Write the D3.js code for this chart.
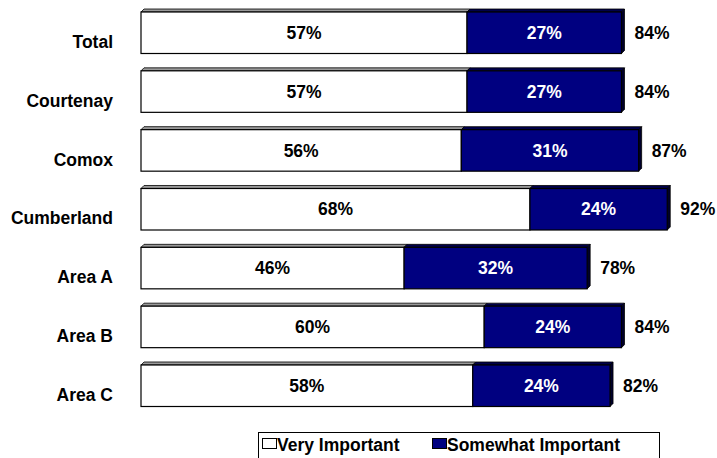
<!DOCTYPE html>
<html>
<head>
<meta charset="utf-8">
<script src="https://cdn.jsdelivr.net/npm/d3@7"></script>
<style>
  body { margin: 0; background: #fff; }
  text { font-family: "Liberation Sans", Arial, sans-serif; font-weight: bold; font-size: 17.5px; }
</style>
</head>
<body>
<svg id="chart" width="717" height="458"></svg>
<script>
// chart data
const categories = ['Total', 'Courtenay', 'Comox', 'Cumberland', 'Area A', 'Area B', 'Area C'];
const veryImportant = [57, 57, 56, 68, 46, 60, 58];
const somewhatImportant = [27, 27, 31, 24, 32, 24, 24];
const totals = [84, 84, 87, 92, 78, 84, 82];
const seriesNames = ['Very Important', 'Somewhat Important'];

const svg = d3.select('#chart');
const depth = 3;

const x = d3.scaleLinear().domain([0, 100]).range([141, 713]);
const y = d3.scaleBand().domain(categories).range([12, 406.5]).paddingInner(0.2946).paddingOuter(0);

const rows = categories.map((c, i) => ({
    name: c, v: veryImportant[i], s: somewhatImportant[i], t: totals[i]
}));

const bars = svg.append('g');

rows.forEach(function(d) {
    const y0 = y(d.name), h = y.bandwidth();
    const segs = [
        {x0: 0, x1: d.v, fill: '#ffffff', top: '#9a9a9a', txt: '#000', label: d.v},
        {x0: d.v, x1: d.v + d.s, fill: '#000080', top: '#00004a', txt: '#fff', label: d.s}
    ];
    const g = bars.append('g');
    // top faces
    g.selectAll('path.top')
        .data(segs)
        .join('path')
        .attr('class', 'top')
        .attr('d', s => `M${x(s.x0)},${y0} L${x(s.x0) + depth},${y0 - depth} L${x(s.x1) + depth},${y0 - depth} L${x(s.x1)},${y0} Z`)
        .attr('fill', s => s.top)
        .attr('stroke', '#000')
        .attr('stroke-width', 0.8);
    // right side face
    const xe = x(d.v + d.s);
    g.append('path')
        .attr('d', `M${xe},${y0} L${xe + depth},${y0 - depth} L${xe + depth},${y0 + h - depth} L${xe},${y0 + h} Z`)
        .attr('fill', '#00002a')
        .attr('stroke', '#000')
        .attr('stroke-width', 0.8);
    // front faces
    g.selectAll('rect')
        .data(segs)
        .join('rect')
        .attr('x', s => x(s.x0))
        .attr('y', y0)
        .attr('width', s => x(s.x1) - x(s.x0))
        .attr('height', h)
        .attr('fill', s => s.fill)
        .attr('stroke', '#000')
        .attr('stroke-width', 1.2);
    g.selectAll('text.seg')
        .data(segs)
        .join('text')
        .attr('class', 'seg')
        .attr('x', s => (x(s.x0) + x(s.x1)) / 2)
        .attr('y', y0 + h / 2)
        .attr('dy', '0.35em')
        .attr('text-anchor', 'middle')
        .attr('fill', s => s.txt)
        .text(s => s.label + '%');
    g.append('text')
        .attr('x', x(d.t) + 13)
        .attr('y', y0 + h / 2)
        .attr('dy', '0.35em')
        .text(d.t + '%');
});

// category labels
svg.append('g').selectAll('text')
    .data(categories)
    .join('text')
    .attr('x', 113)
    .attr('y', d => y(d) + y.bandwidth() / 2 + 9)
    .attr('dy', '0.35em')
    .attr('text-anchor', 'end')
    .text(d => d);

// legend
const legend = svg.append('g');
legend.append('rect')
    .attr('x', 258.5).attr('y', 432.5)
    .attr('width', 401).attr('height', 40)
    .attr('fill', '#fff').attr('stroke', '#000').attr('stroke-width', 1);
const legendItems = [
    {name: seriesNames[0], fill: '#ffffff', x: 262},
    {name: seriesNames[1], fill: '#000080', x: 432}
];
legend.selectAll('rect.sw')
    .data(legendItems)
    .join('rect')
    .attr('class', 'sw')
    .attr('x', d => d.x + 0.5).attr('y', 438.5)
    .attr('width', 14).attr('height', 10)
    .attr('fill', d => d.fill)
    .attr('stroke', '#000').attr('stroke-width', 1);
legend.selectAll('text')
    .data(legendItems)
    .join('text')
    .attr('x', d => d.x + 15)
    .attr('y', 445)
    .attr('dy', '0.35em')
    .text(d => d.name);
</script>
</body>
</html>
